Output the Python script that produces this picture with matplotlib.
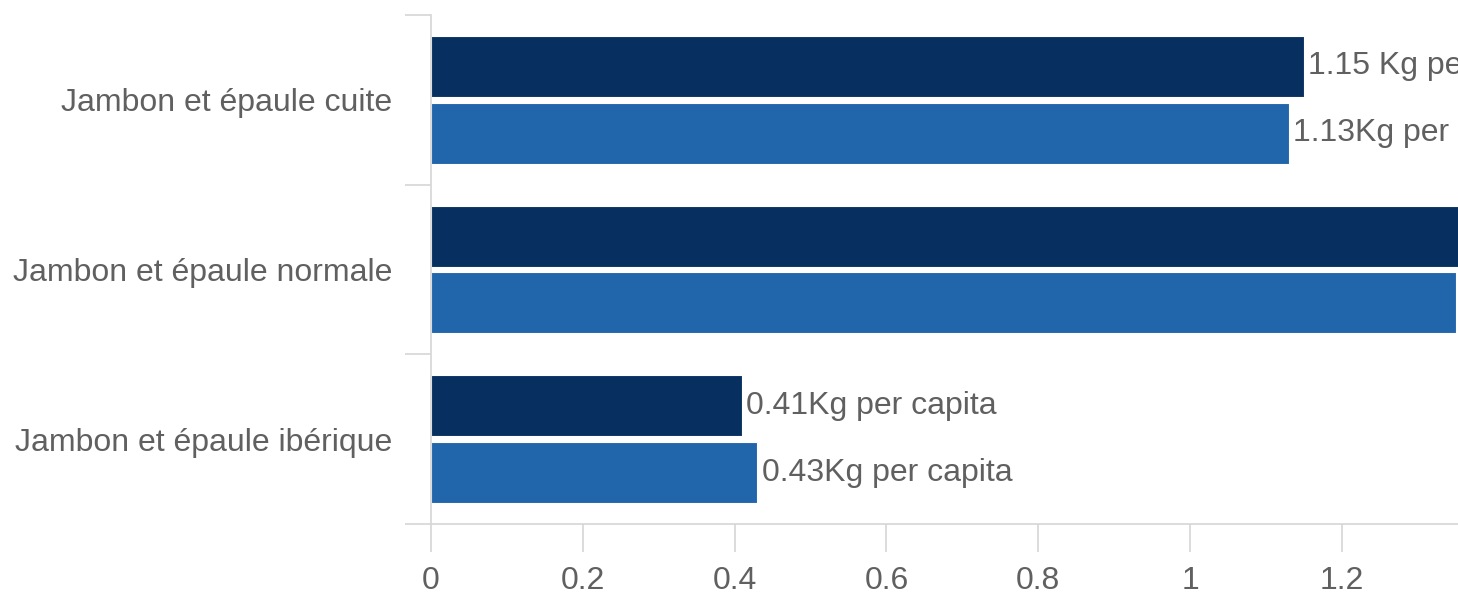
import matplotlib
matplotlib.use("Agg")
import matplotlib.pyplot as plt
from matplotlib.ticker import FuncFormatter

plt.rcParams["font.family"] = ["Liberation Sans", "DejaVu Sans"]

# -----------------------------
# Data
# -----------------------------
categories = ["Jambon et épaule cuite", "Jambon et épaule normale", "Jambon et épaule ibérique"]
dark_values = [1.15, 1.38, 0.41]
light_values = [1.13, 1.35, 0.43]
dark_seps = [" ", "", ""]
light_seps = ["", "", ""]
x_ticks = [0, 0.2, 0.4, 0.6, 0.8, 1.0, 1.2]

dark_color = "#072f5f"
light_color = "#2165ab"
text_color = "#606060"
line_color = "#d6d6d6"
fs = 23

# -----------------------------
# Figure
# -----------------------------
fig = plt.figure(figsize=(14.58, 5.99), dpi=100)
ax = fig.add_axes([431 / 1458, 1 - 524 / 599, 1 - 431 / 1458, (524 - 15) / 599])

y = list(range(len(categories)))
h = 0.36
off = 0.197

dark_bars = ax.barh([i - off for i in y], dark_values, height=h, color=dark_color,
                    edgecolor="white", linewidth=0.8)
light_bars = ax.barh([i + off for i in y], light_values, height=h, color=light_color,
                     edgecolor="white", linewidth=0.8)

for bars, vals, seps in [(dark_bars, dark_values, dark_seps), (light_bars, light_values, light_seps)]:
    for bar, v, s in zip(bars, vals, seps):
        ax.annotate(f"{v:.2f}{s}Kg per capita",
                    xy=(v, bar.get_y() + bar.get_height() / 2),
                    xytext=(3, 0), textcoords="offset points",
                    ha="left", va="center", fontsize=fs, color=text_color,
                    annotation_clip=False)

ax.set_xlim(0, (1458 - 431) / 759)
ax.set_ylim(2.5, -0.5)

# category labels at centres, separators as minor ticks
ax.set_yticks(y)
ax.set_yticklabels(categories)
ax.set_yticks([-0.5, 0.5, 1.5, 2.5], minor=True)
ax.tick_params(axis="y", which="major", length=0, pad=28, labelsize=fs, labelcolor=text_color)
ax.tick_params(axis="y", which="minor", length=19, width=1.2, color=line_color, direction="out")

ax.set_xticks(x_ticks)
ax.xaxis.set_major_formatter(FuncFormatter(lambda v, p: f"{v:g}"))
ax.tick_params(axis="x", length=20, width=1.2, color=line_color, pad=10,
               labelsize=fs, labelcolor=text_color)

for side in ["top", "right"]:
    ax.spines[side].set_visible(False)
for side in ["left", "bottom"]:
    ax.spines[side].set_color(line_color)
    ax.spines[side].set_linewidth(1.2)

fig.savefig("out.png", dpi=100)
